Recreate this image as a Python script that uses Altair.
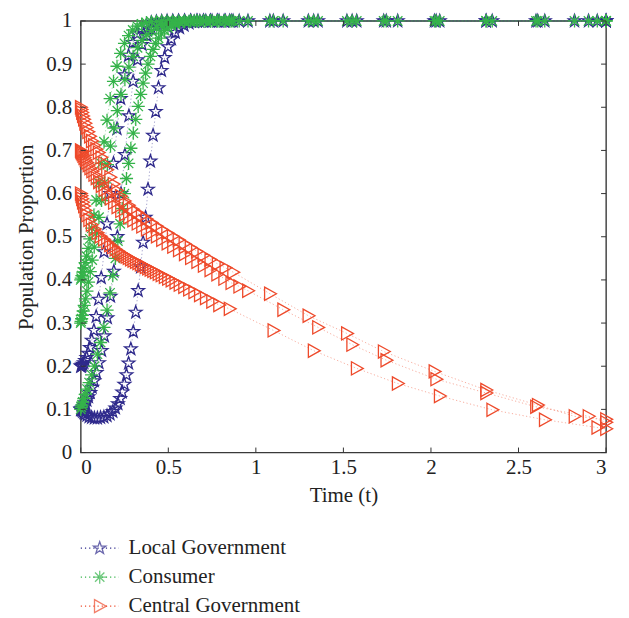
import altair as alt
import pandas as pd

series_names = ["Local Government", "Consumer", "Central Government"]
series_colors = ["#2f2a8c", "#35b34a", "#ee4a2b"]

xticks = [0, 0.5, 1, 1.5, 2, 2.5, 3]
yticks = [0, 0.1, 0.2, 0.3, 0.4, 0.5, 0.6, 0.7, 0.8, 0.9, 1]

# ---- run A ----
tA = [0, 0.003, 0.007, 0.012, 0.018, 0.025, 0.033, 0.042, 0.052, 0.063,
      0.075, 0.088, 0.102, 0.117, 0.133, 0.15, 0.168, 0.187, 0.207, 0.228,
      0.25, 0.273, 0.297, 0.322, 0.348, 0.375, 0.403, 0.432, 0.462, 0.493,
      0.525, 0.558, 0.592, 0.627, 0.663, 0.7, 0.74, 0.782, 0.826, 0.87,
      1.08, 1.3, 1.52, 1.73, 2.02, 2.315, 2.61, 2.82, 3.0]
localA = [0.2, 0.2, 0.202, 0.204, 0.208, 0.213, 0.22, 0.23, 0.243, 0.26,
          0.283, 0.315, 0.355, 0.405, 0.465, 0.53, 0.6, 0.67, 0.75, 0.82,
          0.875, 0.92, 0.95, 0.97, 0.983, 0.991, 0.996, 0.998, 0.999, 1,
          1, 1, 1, 1, 1, 1, 1, 1, 1, 1,
          1, 1, 1, 1, 1, 1, 1, 1, 1]
consumerA = [0.4, 0.404, 0.41, 0.418, 0.428, 0.44, 0.455, 0.473, 0.495, 0.52,
             0.55, 0.585, 0.625, 0.67, 0.72, 0.77, 0.82, 0.86, 0.895, 0.925,
             0.948, 0.966, 0.979, 0.988, 0.993, 0.996, 0.998, 0.999, 1, 1,
             1, 1, 1, 1, 1, 1, 1, 1, 1, 1,
             1, 1, 1, 1, 1, 1, 1, 1, 1]
centralA = [0.8, 0.795, 0.788, 0.78, 0.772, 0.763, 0.753, 0.743, 0.733, 0.722,
            0.712, 0.703, 0.695, 0.684, 0.67, 0.655, 0.638, 0.622, 0.607, 0.594,
            0.583, 0.573, 0.564, 0.556, 0.548, 0.541, 0.533, 0.525, 0.517, 0.509,
            0.501, 0.493, 0.484, 0.475, 0.466, 0.457, 0.447, 0.437, 0.428, 0.418,
            0.368, 0.317, 0.276, 0.234, 0.188, 0.145, 0.11, 0.084, 0.077]

# ---- run B ----
tB = [0, 0.002, 0.005, 0.009, 0.014, 0.02, 0.027, 0.035, 0.044, 0.054,
      0.065, 0.077, 0.09, 0.104, 0.119, 0.135, 0.152, 0.17, 0.189, 0.209,
      0.23, 0.252, 0.275, 0.299, 0.324, 0.35, 0.377, 0.405, 0.434, 0.464,
      0.495, 0.527, 0.56, 0.594, 0.629, 0.665, 0.702, 0.74, 0.779, 0.819,
      0.86, 0.905, 0.955,
      1.156, 1.355, 1.55, 1.745, 2.03, 2.315, 2.6, 2.9, 3.0]
localB = [0.1, 0.1, 0.101, 0.103, 0.106, 0.11, 0.115, 0.121, 0.129, 0.139,
          0.151, 0.166, 0.185, 0.208, 0.236, 0.27, 0.312, 0.362, 0.42, 0.5,
          0.6, 0.69, 0.78, 0.86, 0.91, 0.945, 0.966, 0.98, 0.988, 0.993,
          0.996, 0.998, 0.999, 1, 1, 1, 1, 1, 1, 1,
          1, 1, 1,
          1, 1, 1, 1, 1, 1, 1, 1, 1]
consumerB = [0.3, 0.304, 0.31, 0.318, 0.328, 0.341, 0.356, 0.374, 0.395, 0.419,
             0.446, 0.476, 0.509, 0.545, 0.584, 0.625, 0.667, 0.71, 0.752, 0.792,
             0.83, 0.864, 0.893, 0.918, 0.938, 0.955, 0.968, 0.978, 0.985, 0.99,
             0.994, 0.996, 0.998, 0.999, 1, 1, 1, 1, 1, 1,
             1, 1, 1,
             1, 1, 1, 1, 1, 1, 1, 1, 1]
centralB = [0.7, 0.698, 0.695, 0.692, 0.688, 0.683, 0.678, 0.672, 0.666, 0.659,
            0.652, 0.644, 0.636, 0.627, 0.618, 0.609, 0.599, 0.589, 0.579, 0.569,
            0.56, 0.552, 0.545, 0.538, 0.531, 0.524, 0.517, 0.509, 0.501, 0.493,
            0.485, 0.477, 0.469, 0.46, 0.451, 0.442, 0.433, 0.423, 0.413, 0.403,
            0.393, 0.385, 0.375,
            0.331, 0.29, 0.25, 0.214, 0.17, 0.138, 0.106, 0.084, 0.07]

# ---- run C ----
tC = [0, 0.003, 0.007, 0.012, 0.018, 0.026, 0.036, 0.048, 0.062, 0.078,
      0.095, 0.113, 0.132, 0.15, 0.167, 0.183, 0.198, 0.212, 0.225, 0.237,
      0.249, 0.261, 0.273, 0.286, 0.3, 0.314, 0.328, 0.342, 0.356, 0.37,
      0.384, 0.398, 0.413, 0.428, 0.444, 0.461, 0.479, 0.498, 0.518, 0.54,
      0.564, 0.59, 0.618, 0.648, 0.68, 0.714, 0.75, 0.79, 0.85,
      1.1, 1.33, 1.576, 1.81, 2.05, 2.35, 2.65, 2.95, 3.0]
localC = [0.1, 0.099, 0.097, 0.095, 0.092, 0.089, 0.086, 0.083, 0.081, 0.08,
          0.08, 0.081, 0.082, 0.085, 0.089, 0.095, 0.103, 0.113, 0.125, 0.14,
          0.158, 0.18, 0.207, 0.24, 0.28, 0.325, 0.375, 0.43, 0.487, 0.545,
          0.61, 0.675, 0.735, 0.79, 0.845, 0.885, 0.915, 0.94, 0.958, 0.973,
          0.984, 0.99, 0.995, 0.998, 0.999, 1, 1, 1, 1,
          1, 1, 1, 1, 1, 1, 1, 1, 1]
consumerC = [0.1, 0.105, 0.11, 0.117, 0.125, 0.135, 0.147, 0.162, 0.18, 0.2,
             0.228, 0.255, 0.29, 0.33, 0.37, 0.41, 0.45, 0.49, 0.53, 0.565,
             0.6, 0.635, 0.67, 0.705, 0.74, 0.772, 0.802, 0.83, 0.856, 0.879,
             0.9, 0.918, 0.934, 0.948, 0.96, 0.97, 0.978, 0.984, 0.989, 0.993,
             0.996, 0.998, 0.999, 1, 1, 1, 1, 1, 1,
             1, 1, 1, 1, 1, 1, 1, 1, 1]
centralC = [0.6, 0.595, 0.588, 0.58, 0.571, 0.561, 0.55, 0.539, 0.528, 0.518,
            0.509, 0.501, 0.494, 0.487, 0.481, 0.476, 0.471, 0.467, 0.463, 0.46,
            0.457, 0.454, 0.451, 0.448, 0.445, 0.442, 0.439, 0.436, 0.433, 0.43,
            0.427, 0.424, 0.421, 0.418, 0.414, 0.411, 0.407, 0.403, 0.399, 0.394,
            0.389, 0.384, 0.378, 0.372, 0.365, 0.358, 0.35, 0.342, 0.333,
            0.283, 0.236, 0.195, 0.16, 0.131, 0.099, 0.076, 0.058, 0.055]

runs = [
    ("A", tA, [localA, consumerA, centralA]),
    ("B", tB, [localB, consumerB, centralB]),
    ("C", tC, [localC, consumerC, centralC]),
]

rows = []
order = 0
for s_idx, name in enumerate(series_names):
    for run_id, t, vals in runs:
        v = vals[s_idx]
        assert len(t) == len(v), (run_id, name, len(t), len(v))
        for ti, yi in zip(t, v):
            rows.append({"t": ti, "value": yi, "series": name, "run": run_id, "o": order})
            order += 1
df = pd.DataFrame(rows)

STAR = ("M0,-1L0.235,-0.324L0.951,-0.309L0.38,0.124L0.588,0.809L0,0.4"
        "L-0.588,0.809L-0.38,0.124L-0.951,-0.309L-0.235,-0.324Z")
AST = "M-1,0L1,0M0,-1L0,1M-0.72,-0.72L0.72,0.72M-0.72,0.72L0.72,-0.72"
TRI = "M-0.8,-1L1,0L-0.8,1Z"

W, H = 527, 433
FONT = "Liberation Serif"
FS = 21

x_enc = alt.X("t:Q", scale=alt.Scale(domain=[0, 3], nice=False),
              axis=alt.Axis(values=xticks, format="~g", title="Time (t)",
                            labelPadding=4, titlePadding=7))
y_enc = alt.Y("value:Q", scale=alt.Scale(domain=[0, 1], nice=False),
              axis=alt.Axis(values=yticks, format="~g", title="Population Proportion",
                            labelPadding=9, titlePadding=9))
color_enc = alt.Color("series:N", scale=alt.Scale(domain=series_names, range=series_colors),
                      legend=None)
shape_enc = alt.Shape("series:N", scale=alt.Scale(domain=series_names, range=[STAR, AST, TRI]),
                      legend=None)

lines = alt.Chart(df).mark_line(strokeDash=[1.2, 2.4], strokeWidth=1, opacity=0.45).encode(
    x=x_enc, y=y_enc, color=color_enc,
    detail=alt.Detail(["run:N", "series:N"]), order="t:Q"
)

points = alt.Chart(df).mark_point(filled=False, strokeWidth=1.3, size=175, opacity=1).encode(
    x=x_enc, y=y_enc, color=color_enc, shape=shape_enc, order="o:Q"
)

xt = pd.DataFrame({"t": xticks})
yt = pd.DataFrame({"value": yticks})
tick_col = "#333333"
tb = alt.Chart(xt).mark_rule(color=tick_col, strokeWidth=1).encode(
    x=x_enc, y=alt.value(H), y2=alt.value(H - 5))
tt = alt.Chart(xt).mark_rule(color=tick_col, strokeWidth=1).encode(
    x=x_enc, y=alt.value(0), y2=alt.value(5))
tl = alt.Chart(yt).mark_rule(color=tick_col, strokeWidth=1).encode(
    y=y_enc, x=alt.value(0), x2=alt.value(5))
tr = alt.Chart(yt).mark_rule(color=tick_col, strokeWidth=1).encode(
    y=y_enc, x=alt.value(W), x2=alt.value(W - 5))

main = alt.layer(lines, points, tb, tt, tl, tr).properties(
    width=W, height=H,
    view=alt.ViewBackground(stroke="#3a3a3a", strokeWidth=1.4),
)

leg_df = pd.DataFrame({"series": series_names})
y_leg = alt.Y("series:N", sort=series_names, axis=None,
              scale=alt.Scale(type="point", padding=0.1))
leg_line = alt.Chart(leg_df).mark_rule(strokeDash=[1.2, 3], strokeWidth=1.2).encode(
    x=alt.value(0), x2=alt.value(38), y=y_leg, color=color_enc)
leg_pt = alt.Chart(leg_df).mark_point(filled=False, strokeWidth=1.3, size=170).encode(
    x=alt.value(19), y=y_leg, color=color_enc, shape=shape_enc)
leg_txt = alt.Chart(leg_df).mark_text(align="left", baseline="middle", font=FONT,
                                      fontSize=FS, color="#222222").encode(
    x=alt.value(48), y=y_leg, text="series:N")
legend = alt.layer(leg_line, leg_pt, leg_txt).properties(
    width=300, height=64, view=alt.ViewBackground(stroke="transparent"))

chart = alt.vconcat(main, legend, spacing=30).properties(
    padding={"left": 7, "top": 0, "right": 5, "bottom": 0}
).configure_axis(
    labelFont=FONT, labelFontSize=FS, labelColor="#222222",
    titleFont=FONT, titleFontSize=FS, titleFontWeight="normal", titleColor="#222222",
    ticks=False, domain=False, grid=False,
)

chart.save("out.html", embed_options={"renderer": "svg", "actions": False})
